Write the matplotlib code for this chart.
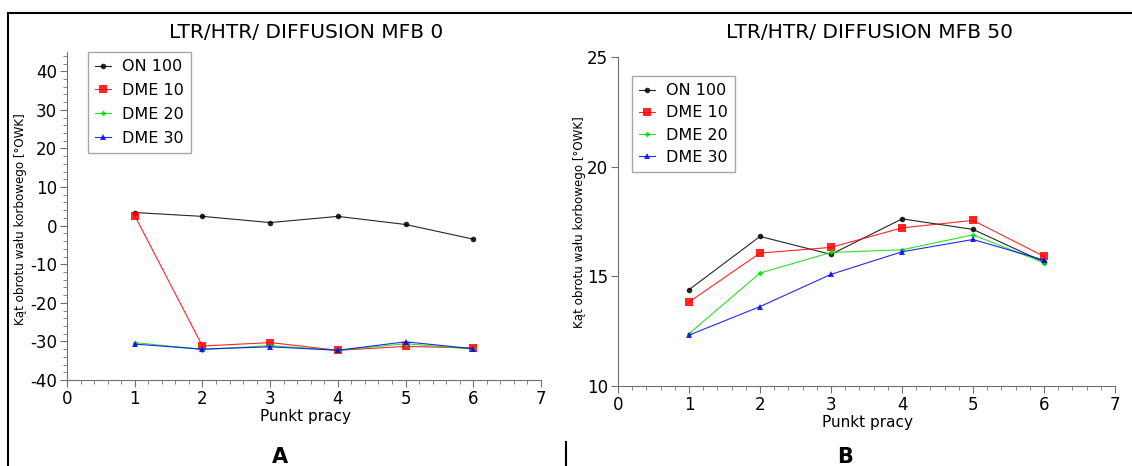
import matplotlib
matplotlib.use('Agg')
import matplotlib.pyplot as plt
from matplotlib.lines import Line2D
from matplotlib.ticker import MultipleLocator

plt.rcParams['axes.unicode_minus'] = False

# punkty pracy
punkty = [1, 2, 3, 4, 5, 6]
serie = ['ON 100', 'DME 10', 'DME 20', 'DME 30']

# MFB 0
mfb0_on100 = [3.4, 2.4, 0.8, 2.4, 0.3, -3.5]
mfb0_dme10 = [2.6, -31.2, -30.3, -32.3, -31.3, -31.7]
mfb0_dme20 = [-30.3, -32.1, -31.1, -32.3, -30.6, -32.0]
mfb0_dme30 = [-30.7, -32.0, -31.4, -32.3, -30.1, -31.9]

# MFB 50
mfb50_on100 = [14.39, 16.82, 16.0, 17.62, 17.14, 15.65]
mfb50_dme10 = [13.83, 16.06, 16.32, 17.21, 17.55, 15.91]
mfb50_dme20 = [12.39, 15.15, 16.09, 16.21, 16.89, 15.62]
mfb50_dme30 = [12.32, 13.62, 15.09, 16.12, 16.68, 15.74]

kolory = ['black', 'red', '#00e000', 'blue']
markery = ['o', 's', 'D', '^']
rozm = [4, 5.5, 3, 4]

W, H = 1132, 466
fig = plt.figure(figsize=(W / 100, H / 100), dpi=100)


def px(x0, y0, x1, y1):
    return [x0 / W, 1 - y1 / H, (x1 - x0) / W, (y1 - y0) / H]


def rysuj(ax, dane, ylim, ymajor, yminor, tytul, tx, legpos, legsp):
    for d, c, m, s, n in zip(dane, kolory, markery, rozm, serie):
        ax.plot(punkty, d, color=c, marker=m, markersize=s, lw=0.8,
                alpha=0.85, label=n, markeredgewidth=0)
    ax.set_xlim(0, 7)
    ax.set_ylim(*ylim)
    ax.xaxis.set_major_locator(MultipleLocator(1))
    ax.xaxis.set_minor_locator(MultipleLocator(0.2))
    ax.yaxis.set_major_locator(MultipleLocator(ymajor))
    if yminor:
        ax.yaxis.set_minor_locator(MultipleLocator(yminor))
    for s in ['top', 'right']:
        ax.spines[s].set_visible(False)
    for s in ['left', 'bottom']:
        ax.spines[s].set_color('#707070')
    ax.tick_params(which='major', length=5, color='#707070', labelsize=12, pad=2)
    ax.tick_params(which='minor', length=3, color='#707070')
    fig.text(tx / W, 1 - 33 / H, tytul, ha='center', va='center', fontsize=14.5)
    leg = ax.legend(loc='upper left', bbox_to_anchor=legpos, fontsize=11.5,
                    frameon=True, fancybox=False, handlelength=1.0,
                    borderpad=0.45, labelspacing=legsp, handletextpad=0.7,
                    borderaxespad=0)
    leg.get_frame().set_edgecolor('#909090')
    leg.get_frame().set_linewidth(1)


axA = fig.add_axes(px(67, 52, 541, 380))
rysuj(axA, [mfb0_on100, mfb0_dme10, mfb0_dme20, mfb0_dme30], (-40, 45), 10, 2,
      'LTR/HTR/ DIFFUSION MFB 0', 306, (0.044, 1.0), 0.55)

axB = fig.add_axes(px(618, 57, 1115, 386))
rysuj(axB, [mfb50_on100, mfb50_dme10, mfb50_dme20, mfb50_dme30], (10, 25), 5, None,
      'LTR/HTR/ DIFFUSION MFB 50', 869, (0.028, 0.942), 0.45)

ylab = 'Kąt obrotu wału korbowego [°OWK]'
fig.text(21 / W, 1 - 219 / H, ylab, rotation=90, ha='center', va='center', fontsize=8.6)
fig.text(580 / W, 1 - 222 / H, ylab, rotation=90, ha='center', va='center', fontsize=8.6)
fig.text(305 / W, 1 - 416 / H, 'Punkt pracy', ha='center', va='center', fontsize=11)
fig.text(868 / W, 1 - 423 / H, 'Punkt pracy', ha='center', va='center', fontsize=11)
fig.text(280 / W, 1 - 457 / H, 'A', ha='center', va='center', fontsize=15, fontweight='bold')
fig.text(845 / W, 1 - 457 / H, 'B', ha='center', va='center', fontsize=15, fontweight='bold')

# ramki
fig.add_artist(Line2D([8 / W, 1], [1 - 13 / H, 1 - 13 / H], color='black', lw=1.5))
fig.add_artist(Line2D([8 / W, 8 / W], [0, 1 - 13 / H], color='black', lw=1.5))
fig.add_artist(Line2D([566 / W, 566 / W], [0, 1 - 442 / H], color='black', lw=1.5))

fig.savefig('out.png', dpi=100)
